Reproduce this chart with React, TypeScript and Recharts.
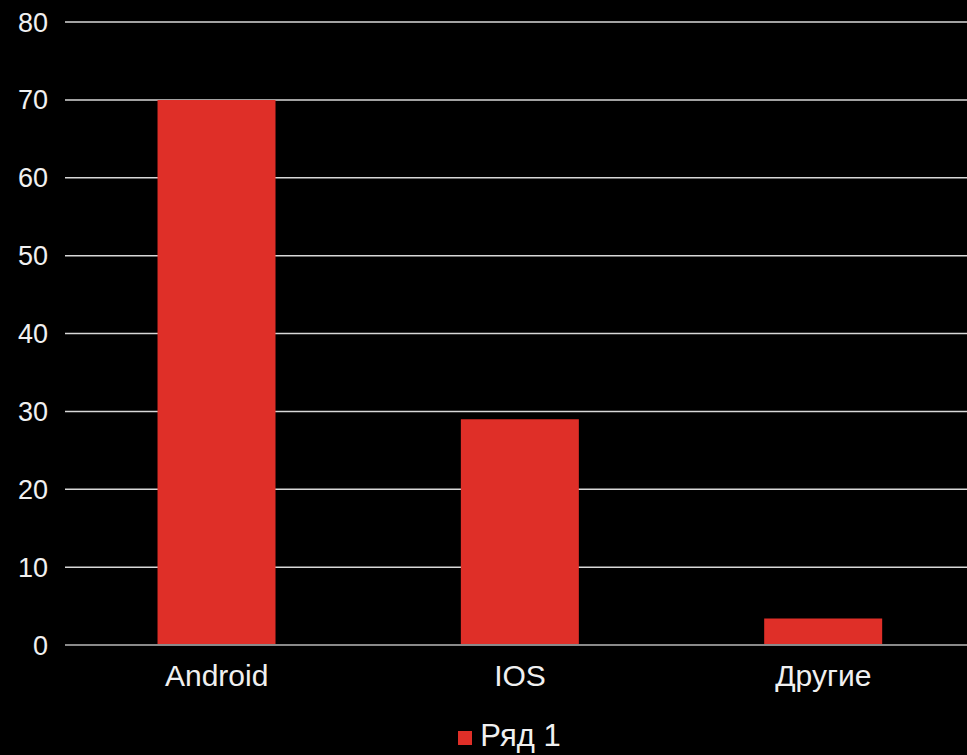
import { BarChart, Bar, XAxis, YAxis, CartesianGrid, Legend } from 'recharts';

// Device share by platform
const categories = ['Android', 'IOS', 'Другие'];
const series1 = [70, 29, 3.4];
const yTicks = [0, 10, 20, 30, 40, 50, 60, 70, 80];

const data = categories.map((name, i) => ({ name, value: series1[i] }));

const font = '"Liberation Sans", Arial, sans-serif';

const renderLegend = () => (
  <div
    style={{
      display: 'flex',
      alignItems: 'center',
      justifyContent: 'center',
      marginLeft: 44,
      fontFamily: font,
      fontSize: 31,
      lineHeight: '34px',
      color: '#f0f0f0',
    }}
  >
    <span style={{ width: 14, height: 14, background: '#df2f28', marginRight: 8, marginTop: 4 }} />
    Ряд 1
  </div>
);

export default function App() {
  return (
    <div
      style={{
        position: 'absolute',
        left: 0,
        top: 0,
        width: 967,
        height: 755,
        overflow: 'hidden',
        background: '#000',
      }}
    >
      <BarChart
        width={975}
        height={755}
        data={data}
        margin={{ top: 22, right: 0, left: 0, bottom: 0 }}
        barCategoryGap="30.5%"
      >
        <CartesianGrid vertical={false} stroke="#d8d8d8" strokeWidth={1.5} />
        <XAxis
          dataKey="name"
          axisLine={{ stroke: '#8a8a8a', strokeWidth: 2 }}
          tickLine={false}
          tickSize={0}
          tickMargin={20}
          height={74}
          tick={{ fill: '#f0f0f0', fontSize: 30, fontFamily: font }}
        />
        <YAxis
          domain={[0, 80]}
          ticks={yTicks}
          interval={0}
          axisLine={false}
          tickLine={false}
          tickSize={0}
          tickMargin={17}
          width={65}
          tick={{ fill: '#f0f0f0', fontSize: 27, fontFamily: font }}
        />
        <Legend verticalAlign="bottom" height={36} content={renderLegend} />
        <Bar dataKey="value" fill="#df2f28" isAnimationActive={false} />
      </BarChart>
    </div>
  );
}
